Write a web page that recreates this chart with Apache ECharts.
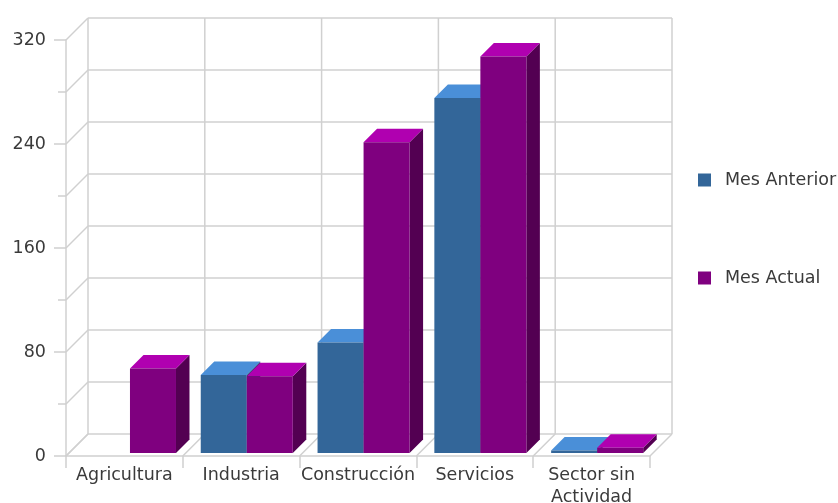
<!DOCTYPE html>
<html>
<head>
<meta charset="utf-8">
<script src="https://cdn.jsdelivr.net/npm/echarts@6/dist/echarts.min.js"></script>
<style>html,body{margin:0;padding:0;background:#fff}#c{width:838px;height:503px}</style>
</head>
<body>
<div id="c"></div>
<script>
var categories = ['Agricultura', 'Industria', 'Construcción', 'Servicios', 'Sector sin\nActividad'];
var seriesNames = ['Mes Anterior', 'Mes Actual'];
var mesAnterior = [null, 60, 85, 273, 2];
var mesActual = [65, 59, 239, 305, 4];
var yMin = 0, yMax = 320, yStep = 40, yLabelStep = 80;

var FONT = 'DejaVu Sans';
var FS = 17.5;
var TXT = '#3a3a3a';
var LINE = '#d0d0d0';
var WALL = 22;      // depth of the frame (px)
var BAR_OFF = 3;    // front face of bars sits this far behind the front plane
var BAR_D = 13.5;   // bar depth
var palettes = [
  {front: '#336699', top: '#4a8fd8', side: '#1f4466'},
  {front: '#7f007f', top: '#b000b0', side: '#530052'}
];

var chart = echarts.init(document.getElementById('c'), null, {renderer: 'canvas'});

function frameRender(params, api) {
  if (params.dataIndex !== 0) return null;
  var band = api.size([1, 0])[0];
  var n = categories.length;
  var children = [];
  var style = {stroke: LINE, lineWidth: 1.5, fill: null};
  function line(a, b) {
    children.push({type: 'line', shape: {x1: a[0], y1: a[1], x2: b[0], y2: b[1]}, style: style, silent: true});
  }
  var x0 = api.coord([0, yMin])[0] - band / 2;
  var x1 = api.coord([n - 1, yMin])[0] + band / 2;
  var yB = api.coord([0, yMin])[1];
  var yT = api.coord([0, yMax])[1];
  for (var v = yMin; v <= yMax; v += yStep) {
    var y = api.coord([0, v])[1];
    line([x0 + WALL, y - WALL], [x1 + WALL, y - WALL]);
    line([x0, y], [x0 + WALL, y - WALL]);
  }
  for (var i = 0; i <= n; i++) {
    var x = x0 + i * band;
    line([x + WALL, yT - WALL], [x + WALL, yB - WALL]);
    line([x, yB], [x + WALL, yB - WALL]);
  }
  return {type: 'group', children: children};
}

function makeBarRender(sIdx) {
  var pal = palettes[sIdx];
  return function (params, api) {
    var v = api.value(1);
    if (v == null || isNaN(v)) return null;
    var idx = api.value(0);
    var band = api.size([1, 0])[0];
    var base = api.coord([idx, 0]);
    var topPt = api.coord([idx, v]);
    var barW = band * 0.394;
    var L = base[0] - band / 2 + band * 0.128 + BAR_OFF + sIdx * barW;
    var R = L + barW;
    var B = base[1] - BAR_OFF;
    var T = topPt[1] - BAR_OFF;
    var D = BAR_D;
    return {
      type: 'group',
      children: [
        {type: 'polygon', shape: {points: [[R, T], [R + D, T - D], [R + D, B - D], [R, B]]}, style: {fill: pal.side}},
        {type: 'polygon', shape: {points: [[L, T], [R, T], [R + D, T - D], [L + D, T - D]]}, style: {fill: pal.top}},
        {type: 'rect', shape: {x: L, y: T, width: barW, height: B - T}, style: {fill: pal.front}}
      ]
    };
  };
}

var option = {
  animation: false,
  backgroundColor: '#fff',
  textStyle: {fontFamily: FONT},
  grid: {left: 66, top: 40, width: 584, height: 416, containLabel: false, outerBoundsMode: 'none'},
  legend: {
    orient: 'vertical',
    left: 693,
    top: 165,
    itemWidth: 13,
    itemHeight: 13,
    itemGap: 78,
    icon: 'rect',
    data: seriesNames,
    textStyle: {fontFamily: FONT, fontSize: FS, color: TXT, lineHeight: 20, padding: [0, 0, 0, 9]}
  },
  xAxis: {
    type: 'category',
    data: categories,
    boundaryGap: true,
    axisLine: {show: true, lineStyle: {color: LINE, width: 1.5}},
    axisTick: {show: true, length: 12, lineStyle: {color: LINE, width: 1.5}},
    axisLabel: {fontFamily: FONT, fontSize: FS, color: TXT, margin: 8, lineHeight: 22, interval: 0},
    splitLine: {show: false}
  },
  yAxis: {
    type: 'value',
    min: yMin,
    max: yMax,
    interval: yLabelStep,
    axisLine: {show: true, lineStyle: {color: LINE, width: 1.5}},
    axisTick: {show: true, length: 12, lineStyle: {color: LINE, width: 1.5}},
    minorTick: {show: true, splitNumber: yLabelStep / yStep, length: 8, lineStyle: {color: LINE, width: 1.5}},
    axisLabel: {fontFamily: FONT, fontSize: FS, color: TXT, margin: 20},
    splitLine: {show: false}
  },
  series: [
    {
      name: '_frame',
      type: 'custom',
      renderItem: frameRender,
      data: categories.map(function (c, i) { return [i, 0]; }),
      z: 1,
      silent: true,
      legendHoverLink: false
    },
    {
      name: seriesNames[0],
      type: 'custom',
      renderItem: makeBarRender(0),
      itemStyle: {color: palettes[0].front},
      data: mesAnterior.map(function (v, i) { return [i, v]; }),
      z: 2
    },
    {
      name: seriesNames[1],
      type: 'custom',
      renderItem: makeBarRender(1),
      itemStyle: {color: palettes[1].front},
      data: mesActual.map(function (v, i) { return [i, v]; }),
      z: 3
    }
  ]
};
chart.setOption(option);
</script>
</body>
</html>
